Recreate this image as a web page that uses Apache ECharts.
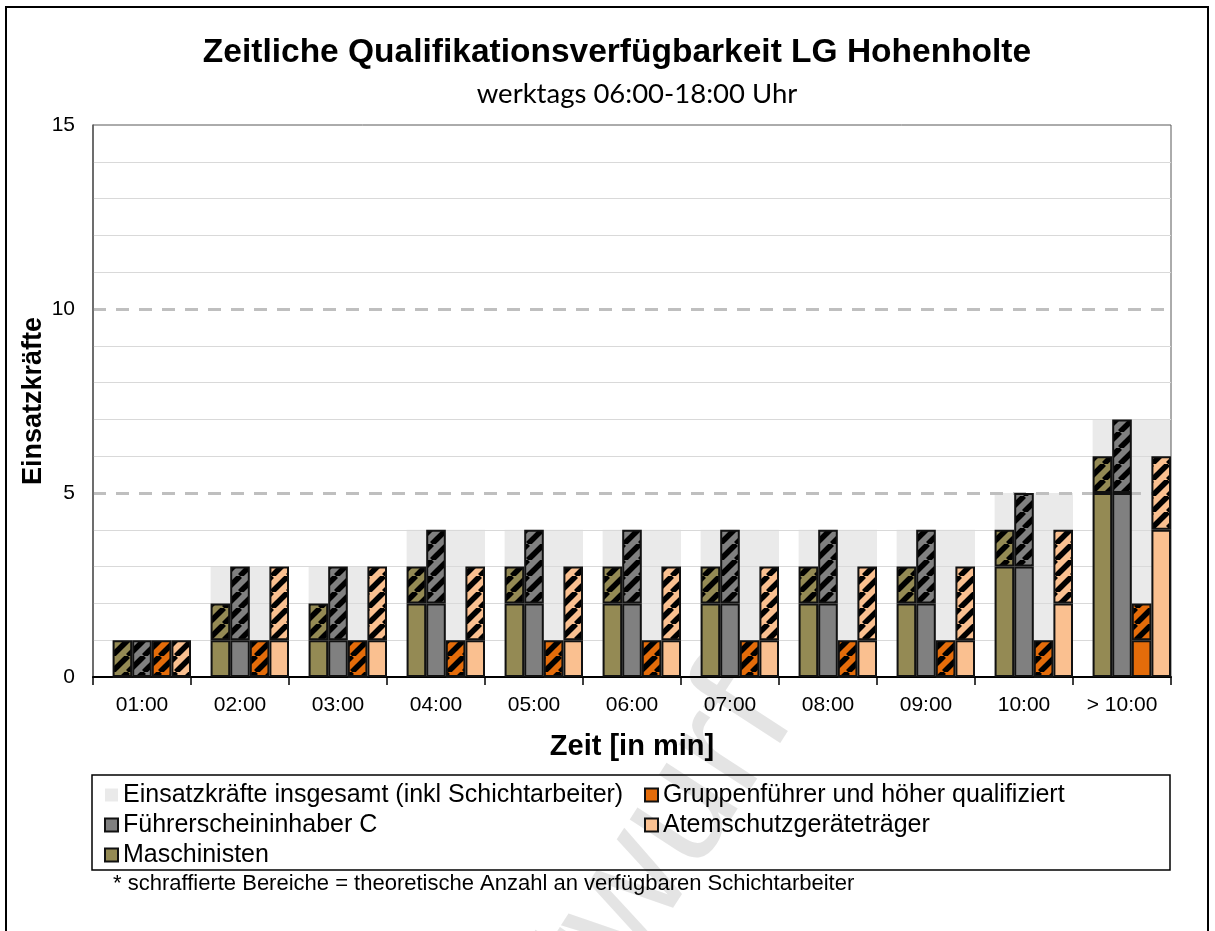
<!DOCTYPE html>
<html>
<head>
<meta charset="utf-8">
<script src="https://cdn.jsdelivr.net/npm/echarts@6/dist/echarts.min.js"></script>
<style>
  html, body { margin: 0; padding: 0; background: #fff; }
  #chart { width: 1215px; height: 931px; }
</style>
</head>
<body>
<div id="chart"></div>
<script>
const categories = ['01:00', '02:00', '03:00', '04:00', '05:00', '06:00', '07:00', '08:00', '09:00', '10:00', '> 10:00'];
const total = [1, 3, 3, 4, 4, 4, 4, 4, 4, 5, 7];
const maschSolid = [0, 1, 1, 2, 2, 2, 2, 2, 2, 3, 5];
const maschShift = [1, 1, 1, 1, 1, 1, 1, 1, 1, 1, 1];
const fuehrerSolid = [0, 1, 1, 2, 2, 2, 2, 2, 2, 3, 5];
const fuehrerShift = [1, 2, 2, 2, 2, 2, 2, 2, 2, 2, 2];
const gruppeSolid = [0, 0, 0, 0, 0, 0, 0, 0, 0, 0, 1];
const gruppeShift = [1, 1, 1, 1, 1, 1, 1, 1, 1, 1, 1];
const atemSolid = [0, 1, 1, 1, 1, 1, 1, 1, 1, 2, 4];
const atemShift = [1, 2, 2, 2, 2, 2, 2, 2, 2, 2, 2];
const yTicks = [0, 5, 10, 15];

const FONT = '"Liberation Sans", Arial, sans-serif';
const names = {
  total: 'Einsatzkräfte insgesamt (inkl Schichtarbeiter)',
  fuehrer: 'Führerscheininhaber C',
  masch: 'Maschinisten',
  gruppe: 'Gruppenführer und höher qualifiziert',
  atem: 'Atemschutzgeräteträger'
};
const colors = { masch: '#948A54', fuehrer: '#808080', gruppe: '#E46C0A', atem: '#FAC090', total: '#EAEAEA' };

// diagonal hatch ("/") in black over the series colour
function hatch(base) {
  const T = 16;
  const c = document.createElement('canvas');
  c.width = T; c.height = T;
  const ctx = c.getContext('2d');
  ctx.fillStyle = base;
  ctx.fillRect(0, 0, T, T);
  ctx.strokeStyle = '#000';
  ctx.lineWidth = 5.5;
  for (let k = -1; k <= 1; k++) {
    ctx.beginPath();
    ctx.moveTo(k * T, T);
    ctx.lineTo(k * T + T, 0);
    ctx.stroke();
  }
  return { image: c, repeat: 'repeat' };
}

const border = { borderColor: '#111', borderWidth: 2 };

function pair(key, solid, shift) {
  return [
    { name: names[key], type: 'bar', stack: key, data: solid,
      itemStyle: Object.assign({ color: colors[key] }, border) },
    { name: names[key] + '*', type: 'bar', stack: key, data: shift,
      itemStyle: Object.assign({ color: hatch(colors[key]) }, border) }
  ];
}

const zeros = categories.map(() => 0);
const legendText = { fontFamily: FONT, fontSize: 25, lineHeight: 30, color: '#000' };

const chart = echarts.init(document.getElementById('chart'), null, { renderer: 'canvas' });
chart.setOption({
  animation: false,
  backgroundColor: '#fff',
  title: [
    { text: 'Zeitliche Qualifikationsverfügbarkeit LG Hohenholte', left: 612, top: 31, textAlign: 'center',
      textStyle: { fontFamily: FONT, fontSize: 33.5, fontWeight: 'bold', color: '#000' } },
    { text: 'werktags 06:00-18:00 Uhr', left: 632, top: 75, textAlign: 'center',
      textStyle: { fontFamily: 'Lato, "Open Sans", sans-serif', fontSize: 27.5, fontWeight: 'normal', color: '#000' } }
  ],
  grid: { left: 93, right: 44, top: 125, bottom: 254, show: true, borderColor: '#595959', borderWidth: 1 },
  legend: [
    { orient: 'vertical', left: 99, top: 775, itemWidth: 13, itemHeight: 13, itemGap: 0, icon: 'rect',
      selectedMode: false, data: [names.total, names.fuehrer, names.masch], textStyle: legendText },
    { orient: 'vertical', left: 639, top: 775, itemWidth: 13, itemHeight: 13, itemGap: 0, icon: 'rect',
      selectedMode: false, data: [names.gruppe, names.atem], textStyle: legendText }
  ],
  xAxis: [
    { type: 'category', data: categories,
      name: 'Zeit [in min]', nameLocation: 'middle', nameGap: 55, nameMoveOverlap: false,
      nameTextStyle: { fontFamily: FONT, fontSize: 29, fontWeight: 'bold', color: '#000' },
      axisLine: { lineStyle: { color: '#000', width: 2 } },
      axisTick: { show: true, length: 8, lineStyle: { color: '#000', width: 1.5 } },
      axisLabel: { fontFamily: FONT, fontSize: 21, color: '#000', margin: 18 } },
    { type: 'category', data: categories, show: false }
  ],
  yAxis: [
    { type: 'value', min: 0, max: 15, interval: 1,
      name: 'Einsatzkräfte', nameLocation: 'middle', nameGap: 46, nameMoveOverlap: false,
      nameTextStyle: { fontFamily: FONT, fontSize: 27, fontWeight: 'bold', color: '#000' },
      axisLine: { show: true, lineStyle: { color: '#595959', width: 1.5 } },
      axisTick: { show: false },
      axisLabel: { fontFamily: FONT, fontSize: 21, color: '#000', margin: 18,
        formatter: v => (yTicks.indexOf(v) >= 0 ? String(v) : '') },
      splitLine: { lineStyle: { width: 1.2,
        color: ['rgba(0,0,0,0)', '#D9D9D9', '#D9D9D9', '#D9D9D9', '#D9D9D9'] } } },
    { type: 'value', min: 0, max: 15, interval: 5, position: 'left',
      axisLine: { show: false }, axisTick: { show: false }, axisLabel: { show: false },
      splitLine: { lineStyle: { width: 3, type: [13, 10],
        color: ['rgba(0,0,0,0)', '#BFBFBF', '#BFBFBF', 'rgba(0,0,0,0)'] } } }
  ],
  series: [
    { name: 'bgpad', type: 'bar', xAxisIndex: 1, stack: 'bgpad', barWidth: '20%', barGap: '0%',
      barCategoryGap: '0%', data: zeros, z: -1, silent: true },
    { name: names.total, type: 'bar', xAxisIndex: 1, stack: 'bg', barWidth: '80%', data: total, z: -1,
      itemStyle: { color: colors.total } },
    { name: 'pad', type: 'bar', stack: 'pad', barGap: '0%', barCategoryGap: '0%', data: zeros, silent: true },
    ...pair('masch', maschSolid, maschShift),
    ...pair('fuehrer', fuehrerSolid, fuehrerShift),
    ...pair('gruppe', gruppeSolid, gruppeShift),
    ...pair('atem', atemSolid, atemShift)
  ],
  graphic: [
    { type: 'rect', shape: { x: 6, y: 7, width: 1202, height: 940 }, silent: true,
      style: { fill: 'none', stroke: '#000', lineWidth: 2 } },
    { type: 'rect', shape: { x: 92, y: 775, width: 1078, height: 95 }, silent: true,
      style: { fill: 'none', stroke: '#000', lineWidth: 1.5 } },
    { type: 'text', x: 113, y: 884, silent: true,
      style: { text: '* schraffierte Bereiche = theoretische Anzahl an verfügbaren Schichtarbeiter',
        fontFamily: FONT, fontSize: 22, fill: '#000', verticalAlign: 'middle' } },
    { type: 'text', x: 612, y: 921, rotation: 57 * Math.PI / 180, silent: true, z: -10,
      style: { text: 'Entwurf', fontFamily: FONT, fontSize: 160, fill: 'rgba(205,205,205,0.55)',
        align: 'center', verticalAlign: 'middle' } }
  ]
});
</script>
</body>
</html>
